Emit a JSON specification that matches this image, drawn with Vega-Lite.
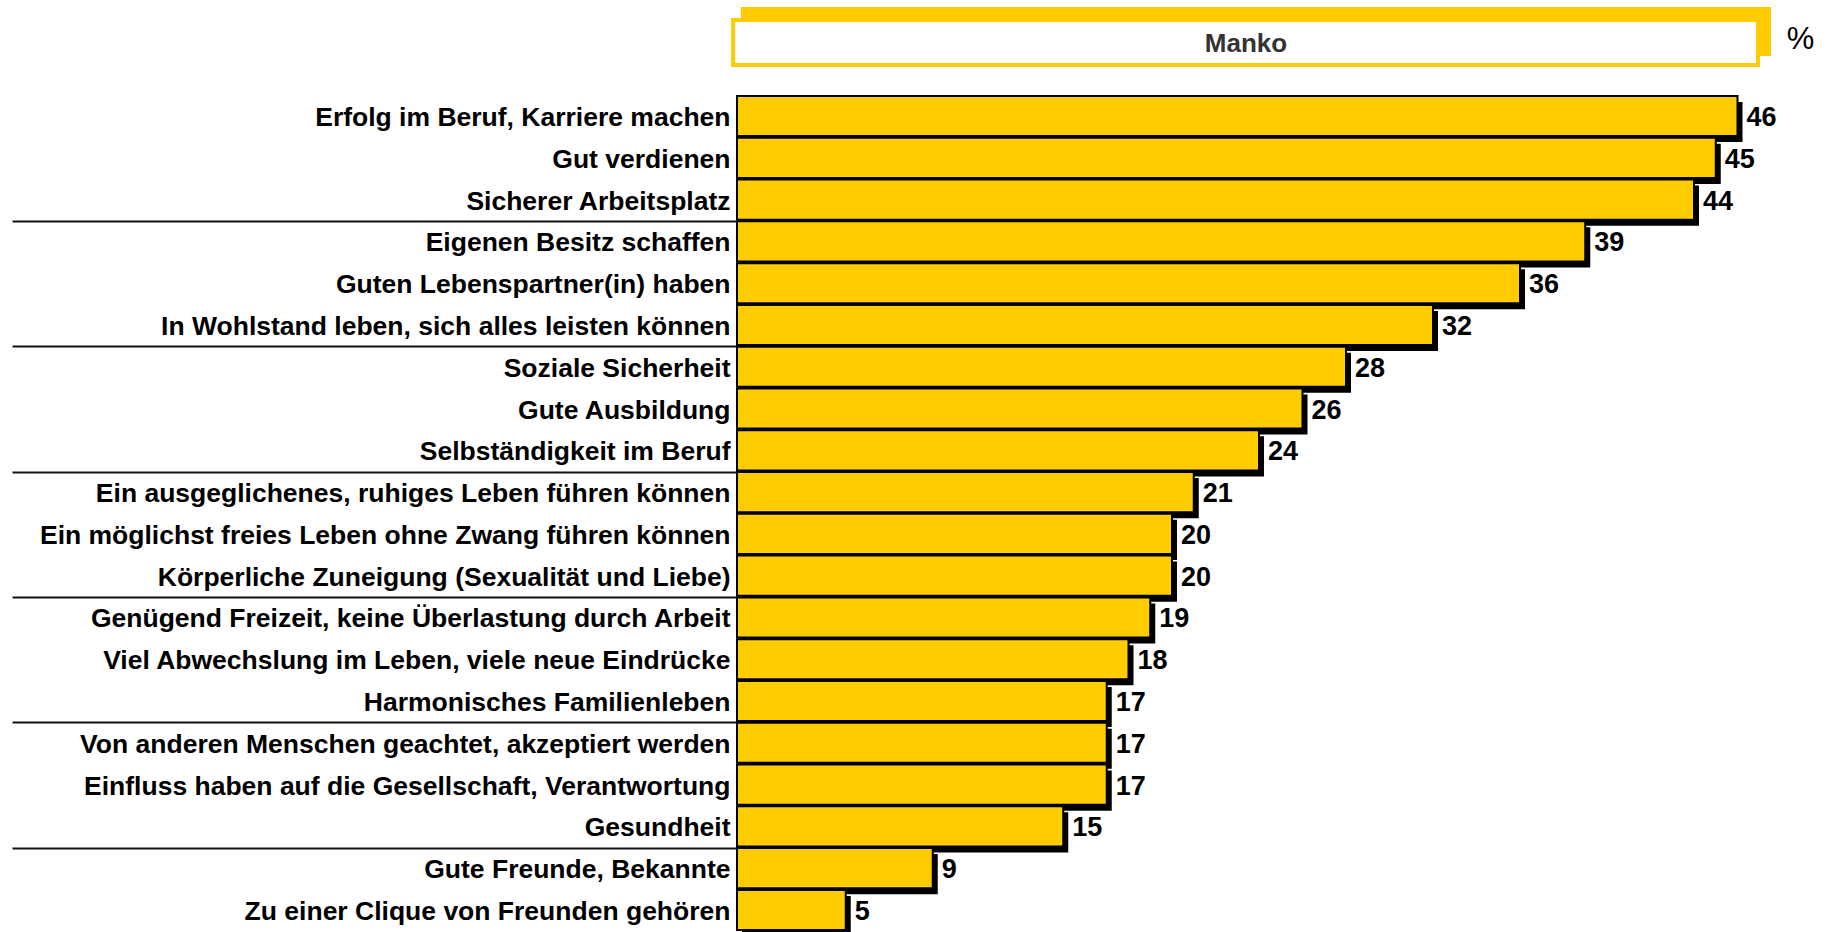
{
  "$schema": "https://vega.github.io/schema/vega-lite/v6.json",
  "background": "white",
  "padding": {"left": 11, "top": 7, "right": 0, "bottom": 0},
  "config": {"view": {"stroke": null}, "font": "Liberation Sans"},
  "spacing": 29,
  "bounds": "flush",
  "vconcat": [
    {
      "width": 1087.5,
      "height": 60,
      "data": {"values": [{"label": "Manko", "unit": "%"}]},
      "layer": [
        {
          "mark": {"type": "rect", "fill": "#FFCC00"},
          "encoding": {
            "x": {"datum": 0.18, "type": "quantitative", "scale": {"domain": [0, 50], "nice": false, "zero": false}, "axis": null},
            "x2": {"datum": 47.54},
            "y": {"datum": 1, "type": "quantitative", "scale": {"domain": [0, 1], "nice": false}, "axis": null},
            "y2": {"datum": 0.183}
          }
        },
        {
          "mark": {"type": "rect", "fill": "white", "stroke": "#FFCC00", "strokeWidth": 4},
          "encoding": {
            "x": {"datum": -0.18, "type": "quantitative"},
            "x2": {"datum": 46.94},
            "y": {"datum": 0.783, "type": "quantitative"},
            "y2": {"datum": 0.033}
          }
        },
        {
          "mark": {"type": "text", "align": "center", "baseline": "middle", "fontSize": 26, "fontWeight": "bold", "fill": "#333333"},
          "encoding": {
            "x": {"datum": 23.4, "type": "quantitative"},
            "y": {"datum": 0.38, "type": "quantitative"},
            "text": {"field": "label"}
          }
        },
        {
          "mark": {"type": "text", "align": "center", "baseline": "middle", "fontSize": 31, "fontWeight": "normal", "fill": "black"},
          "encoding": {
            "x": {"datum": 48.9, "type": "quantitative"},
            "y": {"datum": 0.45, "type": "quantitative"},
            "text": {"field": "unit"}
          }
        }
      ]
    },
    {
      "width": 1087.5,
      "height": 834,
      "data": {
        "values": [
          {"item": "Erfolg im Beruf, Karriere machen", "value": 46},
          {"item": "Gut verdienen", "value": 45},
          {"item": "Sicherer Arbeitsplatz", "value": 44},
          {"item": "Eigenen Besitz schaffen", "value": 39},
          {"item": "Guten Lebenspartner(in) haben", "value": 36},
          {"item": "In Wohlstand leben, sich alles leisten können", "value": 32},
          {"item": "Soziale Sicherheit", "value": 28},
          {"item": "Gute Ausbildung", "value": 26},
          {"item": "Selbständigkeit im Beruf", "value": 24},
          {"item": "Ein ausgeglichenes, ruhiges Leben führen können", "value": 21},
          {"item": "Ein möglichst freies Leben ohne Zwang führen können", "value": 20},
          {"item": "Körperliche Zuneigung (Sexualität und Liebe)", "value": 20},
          {"item": "Genügend Freizeit, keine Überlastung durch Arbeit", "value": 19},
          {"item": "Viel Abwechslung im Leben, viele neue Eindrücke", "value": 18},
          {"item": "Harmonisches Familienleben", "value": 17},
          {"item": "Von anderen Menschen geachtet, akzeptiert werden", "value": 17},
          {"item": "Einfluss haben auf die Gesellschaft, Verantwortung", "value": 17},
          {"item": "Gesundheit", "value": 15},
          {"item": "Gute Freunde, Bekannte", "value": 9},
          {"item": "Zu einer Clique von Freunden gehören", "value": 5}
        ]
      },
      "encoding": {
        "y": {
          "field": "item",
          "type": "nominal",
          "sort": null,
          "scale": {"paddingInner": 0.04, "paddingOuter": 0},
          "axis": {
            "title": null,
            "domain": true,
            "domainColor": "#555555",
            "domainWidth": 2,
            "ticks": true,
            "bandPosition": 0,
            "tickSize": 725,
            "tickWidth": 2,
            "tickColor": "#111111",
            "tickOpacity": {
              "condition": {
                "test": "indexof(['Eigenen Besitz schaffen', 'Soziale Sicherheit', 'Ein ausgeglichenes, ruhiges Leben führen können', 'Genügend Freizeit, keine Überlastung durch Arbeit', 'Von anderen Menschen geachtet, akzeptiert werden', 'Gute Freunde, Bekannte'], datum.value) >= 0",
                "value": 1
              },
              "value": 0
            },
            "labelPadding": -718,
            "labelOffset": 2,
            "labelFont": "Liberation Sans",
            "labelFontSize": 26.5,
            "labelFontWeight": "bold",
            "labelColor": "black",
            "labelLimit": 0,
            "labelOverlap": false,
            "grid": false
          }
        },
        "x": {
          "field": "value",
          "type": "quantitative",
          "scale": {"domain": [0, 50], "nice": false},
          "axis": null
        }
      },
      "layer": [
        {"mark": {"type": "bar", "fill": "black", "xOffset": 5, "x2Offset": 5, "yOffset": 6, "y2Offset": 6}},
        {"mark": {"type": "bar", "fill": "#FFCC00", "stroke": "black", "strokeWidth": 2}},
        {
          "mark": {"type": "text", "align": "left", "baseline": "middle", "dx": 9, "dy": 2, "font": "Liberation Sans", "fontSize": 27, "fontWeight": "bold", "fill": "black"},
          "encoding": {"text": {"field": "value", "type": "quantitative"}}
        }
      ]
    }
  ]
}
